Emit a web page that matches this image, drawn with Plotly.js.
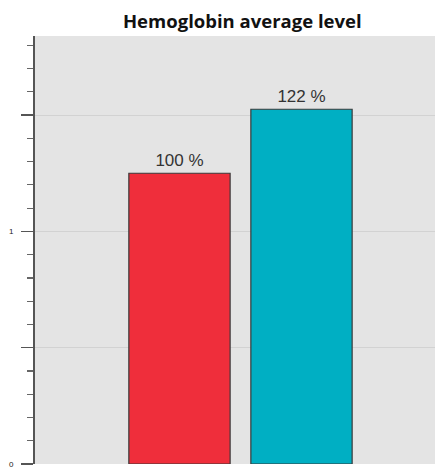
<!DOCTYPE html>
<html>
<head>
<meta charset="utf-8">
<script src="https://cdn.plot.ly/plotly-3.0.1.min.js"></script>
<style>
  html, body { margin: 0; padding: 0; background: #ffffff; }
  #chart { width: 435px; height: 468px; }
</style>
</head>
<body>
<div id="chart"></div>
<script>
// Hemoglobin level per group
const groups = ["Group A", "Group B"];
const levels = [1.25, 1.525];
const barColors = ["#ef2e3b", "#00afc3"];

// Y axis labels
const yTickVals = [0, 0.5, 1, 1.5];
const yTickText = ["0", "", "1", ""];

// Percent of the first group, shown above each bar
const pctLabels = levels.map(v => Math.round(v / levels[0] * 100) + " %");

const trace = {
  type: "bar",
  x: groups,
  y: levels,
  width: 0.83,
  marker: { color: barColors, line: { color: "#3a3a3a", width: 1.2 } },
  text: pctLabels,
  textposition: "outside",
  cliponaxis: false,
  textfont: { family: "Liberation Sans, Arial, sans-serif", size: 17, color: "#333333" },
  hoverinfo: "none"
};

const layout = {
  width: 435,
  height: 468,
  margin: { l: 35, r: 0, t: 36, b: 4, pad: 0 },
  paper_bgcolor: "#ffffff",
  plot_bgcolor: "#e4e4e4",
  showlegend: false,
  title: {
    text: "<b>Hemoglobin average level</b>",
    x: 0.557, xanchor: "center",
    y: 0.955, yanchor: "middle",
    font: { family: "Open Sans, sans-serif", size: 18.5, color: "#111111" }
  },
  xaxis: {
    type: "category",
    range: [-1.184, 2.094],
    showticklabels: false,
    showgrid: false,
    zeroline: false,
    ticks: ""
  },
  yaxis: {
    range: [0, 1.84],
    tickvals: yTickVals,
    ticktext: yTickText,
    ticks: "outside",
    ticklen: 12,
    tickwidth: 1.5,
    tickcolor: "#555555",
    ticklabelstandoff: 6,
    ticklabeloverflow: "allow",
    tickfont: { family: "Liberation Sans, Arial, sans-serif", size: 8, color: "#222222" },
    showline: true,
    linecolor: "#555555",
    linewidth: 2,
    showgrid: true,
    gridcolor: "#d2d2d2",
    gridwidth: 1,
    zeroline: false,
    minor: { dtick: 0.1, ticks: "outside", ticklen: 6, tickwidth: 1.2, tickcolor: "#666666", showgrid: false }
  }
};

Plotly.newPlot("chart", [trace], layout, { displayModeBar: false, staticPlot: true });
</script>
</body>
</html>
